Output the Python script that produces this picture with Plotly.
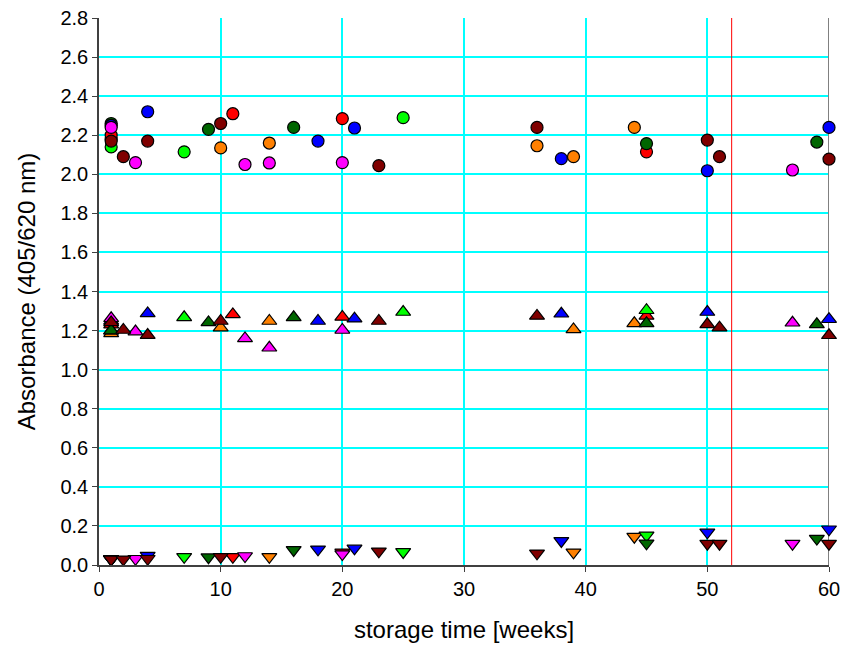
import plotly.graph_objects as go

# ---- data: (weeks, absorbance) per batch colour and control type ----
orange_circle_x = [1, 10, 14, 36, 39, 44]
orange_circle_y = [2.18, 2.135, 2.16, 2.146, 2.09, 2.24]
orange_up_x = [1, 10, 14, 39, 44]
orange_up_y = [1.186, 1.215, 1.249, 1.206, 1.237]
orange_down_x = [1, 14, 39, 44]
orange_down_y = [0.03, 0.042, 0.065, 0.145]

red_circle_x = [1, 11, 20, 45]
red_circle_y = [2.2, 2.31, 2.285, 2.115]
red_up_x = [1, 11, 20, 45]
red_up_y = [1.23, 1.283, 1.27, 1.275]
red_down_x = [1, 11, 20]
red_down_y = [0.03, 0.042, 0.065]

green_circle_x = [1, 7, 25]
green_circle_y = [2.14, 2.115, 2.29]
green_up_x = [1, 7, 25, 45]
green_up_y = [1.2, 1.268, 1.295, 1.304]
green_down_x = [1, 7, 25, 45]
green_down_y = [0.03, 0.042, 0.067, 0.152]

dkgreen_circle_x = [1, 9, 16, 45, 59]
dkgreen_circle_y = [2.26, 2.23, 2.24, 2.157, 2.165]
dkgreen_up_x = [1, 9, 16, 45, 59]
dkgreen_up_y = [1.2, 1.242, 1.268, 1.237, 1.232]
dkgreen_down_x = [1, 9, 16, 45, 59]
dkgreen_down_y = [0.03, 0.04, 0.077, 0.111, 0.135]

blue_circle_x = [1, 4, 18, 21, 38, 50, 60]
blue_circle_y = [2.25, 2.32, 2.17, 2.237, 2.08, 2.018, 2.24]
blue_up_x = [1, 4, 18, 21, 38, 50, 60]
blue_up_y = [1.25, 1.288, 1.249, 1.261, 1.286, 1.295, 1.258]
blue_down_x = [1, 4, 18, 21, 38, 50, 60]
blue_down_y = [0.03, 0.048, 0.08, 0.085, 0.123, 0.167, 0.183]

magenta_circle_x = [1, 3, 12, 14, 20, 57]
magenta_circle_y = [2.24, 2.06, 2.05, 2.058, 2.06, 2.022]
magenta_up_x = [1, 3, 12, 14, 20, 57]
magenta_up_y = [1.263, 1.195, 1.16, 1.112, 1.203, 1.24]
magenta_down_x = [1, 3, 12, 20, 57]
magenta_down_y = [0.03, 0.032, 0.046, 0.056, 0.109]

dkred_circle_x = [1, 2, 4, 10, 23, 36, 50, 51, 60]
dkred_circle_y = [2.17, 2.09, 2.17, 2.26, 2.044, 2.24, 2.175, 2.09, 2.078]
dkred_up_x = [1, 2, 4, 10, 23, 36, 50, 51, 60]
dkred_up_y = [1.242, 1.203, 1.177, 1.249, 1.249, 1.275, 1.232, 1.215, 1.176]
dkred_down_x = [1, 2, 4, 10, 23, 36, 50, 51, 60]
dkred_down_y = [0.029, 0.029, 0.032, 0.042, 0.07, 0.06, 0.109, 0.109, 0.109]

x_ticks = [0, 10, 20, 30, 40, 50, 60]
y_ticks = [0.0, 0.2, 0.4, 0.6, 0.8, 1.0, 1.2, 1.4, 1.6, 1.8, 2.0, 2.2, 2.4, 2.6, 2.8]
marker_line_week = 52

series = [
    ("#FF8000", orange_circle_x, orange_circle_y, orange_up_x, orange_up_y, orange_down_x, orange_down_y),
    ("#FF0000", red_circle_x, red_circle_y, red_up_x, red_up_y, red_down_x, red_down_y),
    ("#00FF00", green_circle_x, green_circle_y, green_up_x, green_up_y, green_down_x, green_down_y),
    ("#006600", dkgreen_circle_x, dkgreen_circle_y, dkgreen_up_x, dkgreen_up_y, dkgreen_down_x, dkgreen_down_y),
    ("#0000FF", blue_circle_x, blue_circle_y, blue_up_x, blue_up_y, blue_down_x, blue_down_y),
    ("#FF00FF", magenta_circle_x, magenta_circle_y, magenta_up_x, magenta_up_y, magenta_down_x, magenta_down_y),
    ("#800000", dkred_circle_x, dkred_circle_y, dkred_up_x, dkred_up_y, dkred_down_x, dkred_down_y),
]

fig = go.Figure()
for color, cx, cy, ux, uy, dx, dy in series:
    for xs, ys, sym, size in ((cx, cy, "circle", 12), (ux, uy, "triangle-up", 13), (dx, dy, "triangle-down", 13)):
        fig.add_trace(go.Scatter(
            x=xs, y=ys, mode="markers", showlegend=False, cliponaxis=False,
            marker=dict(symbol=sym, size=size, color=color,
                        line=dict(color="black", width=1.2)),
        ))

fig.add_shape(type="line", xref="x", yref="y", x0=marker_line_week, x1=marker_line_week,
              y0=y_ticks[0], y1=y_ticks[-1], line=dict(color="#FF0000", width=1), layer="between")
fig.add_shape(type="line", xref="x", yref="y", x0=x_ticks[-1], x1=x_ticks[-1],
              y0=y_ticks[0], y1=y_ticks[-1], line=dict(color="#808080", width=2), layer="between")

font = "Liberation Sans, Arial, sans-serif"
fig.update_layout(
    width=843, height=646,
    margin=dict(l=99, r=14, t=18, b=81),
    paper_bgcolor="white", plot_bgcolor="white",
    font=dict(family=font, size=20, color="black"),
)
fig.update_xaxes(
    range=[0, 60], tickvals=x_ticks, ticktext=[str(v) for v in x_ticks],
    showgrid=True, gridcolor="#00FFFF", gridwidth=1.5, automargin=False,
    showline=True, linecolor="#404040", linewidth=1.5,
    ticks="outside", ticklen=5, tickcolor="#404040", zeroline=False,
    title=dict(text="storage time [weeks]", font=dict(size=24), standoff=22),
)
fig.update_yaxes(
    range=[0, 2.8], tickvals=y_ticks, ticktext=[f"{v:.1f}" for v in y_ticks],
    showgrid=True, gridcolor="#00FFFF", gridwidth=1.5, automargin=False,
    showline=True, linecolor="#404040", linewidth=1.5,
    ticks="outside", ticklen=5, tickcolor="#404040", zeroline=False,
    title=dict(text="Absorbance (405/620 nm)", font=dict(size=24), standoff=18),
)

fig.write_html("out.html")
